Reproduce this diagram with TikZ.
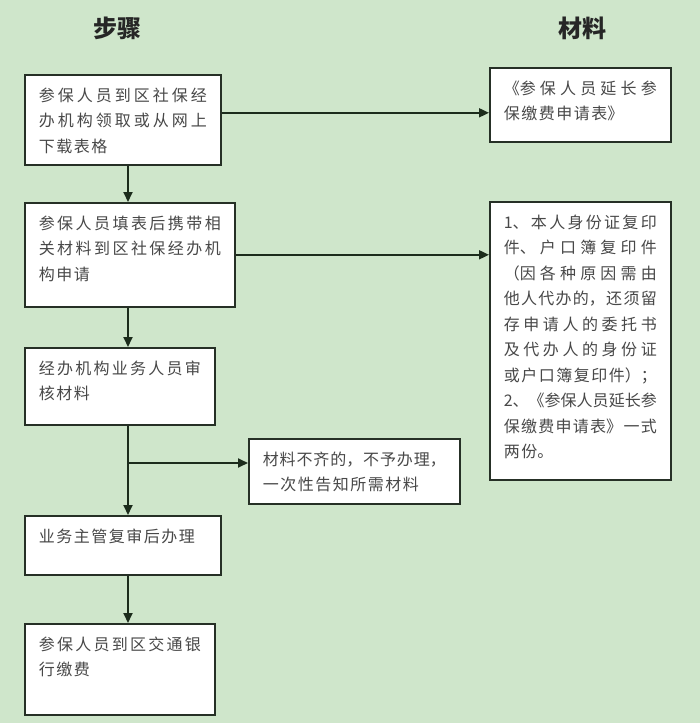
\documentclass[tikz,border=0pt]{standalone}
\usepackage{fontspec}
\newfontfamily\cjk{Noto Sans CJK SC}
\XeTeXlinebreaklocale "zh"
\XeTeXlinebreakskip=1.5pt plus 5pt minus 1.5pt
\tolerance=10000
\usetikzlibrary{arrows.meta}
\definecolor{pagegreen}{RGB}{207,230,203}
\definecolor{boxline}{RGB}{38,48,38}
\definecolor{linkline}{RGB}{28,44,28}
\definecolor{textgrey}{RGB}{72,72,72}

\begin{document}
\begin{tikzpicture}
[x=1pt,y=-1pt,
  stepbox/.style={draw=boxline,line width=1.6pt,fill=white,anchor=north west,%
    inner xsep=14pt,inner ysep=13pt,text=textgrey,%
    font=\cjk\fontsize{16}{25.5}\selectfont},
  headtext/.style={font=\cjk\bfseries\fontsize{24}{24}\selectfont,text=black!85},
  linkarrow/.style={draw=linkline,line width=1.8pt,-{Triangle[length=10pt,width=9pt]}}]
\useasboundingbox[fill=pagegreen] (0,0) rectangle (700,723);
%% column heads
\node[headtext] (headsteps) at (117,28) {步骤};
\node[headtext] (headfiles) at (582,28) {材料};
%% steps
\node[stepbox] (step1) at (24,74) {\parbox[t][64pt][t]{168pt}{参保人员到区社保经\break 办机构领取或从网上\break 下载表格}};
\node[stepbox] (step2) at (24,202) {\parbox[t][78pt][t]{182pt}{参保人员填表后携带相\break 关材料到区社保经办机\break 构申请}};
\node[stepbox] (step3) at (24,347) {\parbox[t][51pt][t]{162pt}{经办机构业务人员审\break 核材料}};
\node[stepbox] (step4) at (24,515) {\parbox[t][33pt][t]{168pt}{业务主管复审后办理}};
\node[stepbox] (step5) at (24,623) {\parbox[t][65pt][t]{162pt}{参保人员到区交通银\break 行缴费}};
\node[stepbox] (reject) at (248,438) {\parbox[t][39pt][t]{183pt}{材料不齐的，不予办理，\break 一次性告知所需材料}};
%% materials
\node[stepbox] (files1) at (489,67) {\parbox[t][48pt][t]{153pt}{《参保人员延长参\break 保缴费申请表》}};
\node[stepbox] (files2) at (489,201) {\parbox[t][252pt][t]{153pt}{1、本人身份证复印\break 件、户口簿复印件\break （因各种原因需由\break 他人代办的，还须留\break 存申请人的委托书\break 及代办人的身份证\break 或户口簿复印件）；\\ 2、《参保人员延长参\break 保缴费申请表》一式\break 两份。}};
%% spine of the step column
\coordinate (spine) at (128,0);
\coordinate (fork) at (128,463);
%% links
\foreach \startnode/\endnode in {step1/step2, step2/step3, step3/step4, step4/step5} {
  \draw[linkarrow] (\startnode.south -| spine) -- (\endnode.north -| spine);
}
\draw[linkarrow] (fork) -- (fork -| reject.west);
\draw[linkarrow] ([yshift=7pt]step1.east) -- ([yshift=7pt]step1.east -| files1.west);
\draw[linkarrow] (step2.east) -- (step2.east -| files2.west);
\end{tikzpicture}
\end{document}
